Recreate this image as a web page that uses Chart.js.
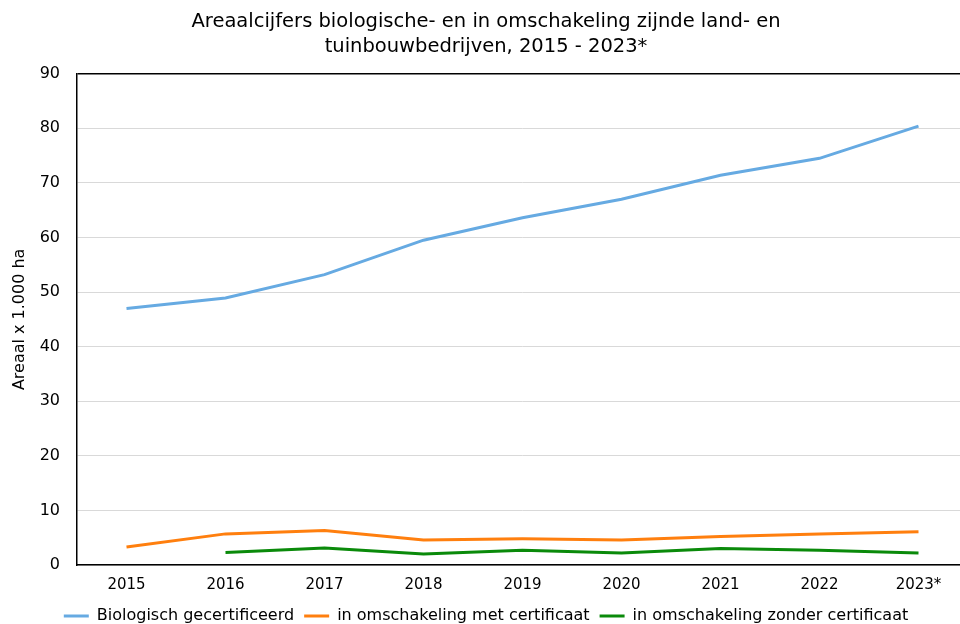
<!DOCTYPE html>
<html>
<head>
<meta charset="utf-8">
<script src="https://cdn.jsdelivr.net/npm/chart.js@4/dist/chart.umd.min.js"></script>
<style>
  html, body { margin: 0; padding: 0; background: #fff; overflow: hidden; }
  #wrap { width: 988px; height: 634px; }
</style>
</head>
<body>
<div id="wrap"><canvas id="grafiek"></canvas></div>
<script>
"use strict";
// jaren (2023 voorlopig)
const jaren = ["2015", "2016", "2017", "2018", "2019", "2020", "2021", "2022", "2023*"];
// areaal x 1.000 ha
const biologisch = [47.0, 48.9, 53.2, 59.5, 63.6, 67.0, 71.4, 74.5, 80.4];
const metCertificaat = [3.3, 5.7, 6.3, 4.6, 4.8, 4.6, 5.2, 5.7, 6.1];
const zonderCertificaat = [null, 2.3, 3.1, 2.0, 2.7, 2.2, 3.0, 2.7, 2.2];

const lettertype = "'DejaVu Sans', Verdana, sans-serif";

window.onload = function () {
  let ctx = document.getElementById("grafiek");
  let chart = new Chart(ctx, {
    type: "line",
    data: {
      labels: jaren,
      datasets: [
        { label: "Biologisch gecertificeerd", data: biologisch, borderColor: "#66aae2", backgroundColor: "#66aae2" },
        { label: "in omschakeling met certificaat", data: metCertificaat, borderColor: "#ff7f0e", backgroundColor: "#ff7f0e" },
        { label: "in omschakeling zonder certificaat", data: zonderCertificaat, borderColor: "#0a8a0a", backgroundColor: "#0a8a0a" }
      ]
    },
    options: {
      responsive: true,
      maintainAspectRatio: false,
      animation: false,
      spanGaps: false,
      elements: {
        line: { borderWidth: 3, tension: 0 },
        point: { radius: 0, hoverRadius: 0 }
      },
      layout: { padding: { top: 9, left: 4, right: 20, bottom: 0 } },
      plugins: {
        title: {
          display: true,
          text: ["Areaalcijfers biologische- en in omschakeling zijnde land- en", "tuinbouwbedrijven, 2015 - 2023*"],
          color: "#000",
          font: { family: lettertype, size: 19.5, weight: "normal", lineHeight: 1.3 },
          padding: { top: 0, bottom: 14 }
        },
        legend: {
          position: "bottom",
          labels: {
            color: "#000",
            font: { family: lettertype, size: 16 },
            boxWidth: 25,
            boxHeight: 3,
            padding: 10,
            generateLabels: function (c) {
              // alleen een dun lijntje als legendasymbool
              return Chart.defaults.plugins.legend.labels.generateLabels(c).map(function (l) {
                l.lineWidth = 0;
                return l;
              });
            }
          }
        },
        tooltip: { enabled: false }
      },
      scales: {
        x: {
          offset: true,
          afterFit: function (s) { s.height = 33; },
          grid: { display: false, drawTicks: false },
          border: { color: "#000", width: 1.5 },
          ticks: { color: "#000", font: { family: lettertype, size: 15 }, padding: 11, maxRotation: 0 }
        },
        y: {
          min: 0,
          max: 90,
          afterFit: function (s) { s.width = 73; },
          grid: {
            drawTicks: false,
            color: function (c) { return c.tick && c.tick.value === 90 ? "#000" : "#d9d9d9"; },
            lineWidth: function (c) { return c.tick && c.tick.value === 90 ? 1.5 : 1; }
          },
          border: { color: "#000", width: 1.5 },
          ticks: { stepSize: 10, color: "#000", font: { family: lettertype, size: 16 }, padding: 17 },
          title: { display: true, text: "Areaal x 1.000 ha", color: "#000", font: { family: lettertype, size: 16 }, padding: { top: 6, bottom: 0 } }
        }
      }
    }
  });
};
</script>
</body>
</html>
